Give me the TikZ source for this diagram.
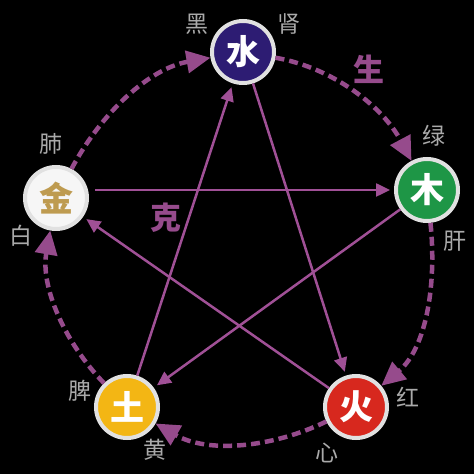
\documentclass[tikz,border=0pt]{standalone}
\usepackage{fontspec}
\newfontfamily\cjk{Noto Sans CJK SC}
\usetikzlibrary{arrows.meta}
\definecolor{waterc}{RGB}{45,28,115}
\definecolor{woodc}{RGB}{30,150,70}
\definecolor{firec}{RGB}{215,40,30}
\definecolor{earthc}{RGB}{243,182,20}
\definecolor{metalc}{RGB}{246,246,246}
\definecolor{goldc}{RGB}{190,155,80}
\definecolor{ringc}{RGB}{225,225,225}
\definecolor{shengc}{RGB}{150,75,140}
\definecolor{kec}{RGB}{160,80,150}
\definecolor{lblc}{RGB}{170,170,170}
\begin{document}
\begin{tikzpicture}[x=1pt,y=1pt,
  elem/.style={circle, minimum size=62pt, inner sep=0pt, line width=4pt, draw=ringc,
    font=\cjk\bfseries\fontsize{34}{34}\selectfont, text=white},
  lbl/.style={font=\cjk\fontsize{23}{23}\selectfont, text=lblc, inner sep=0pt},
  big/.style={font=\cjk\bfseries\fontsize{31}{31}\selectfont, text=shengc, inner sep=0pt},
  cyc/.style={draw=shengc, line width=4.5pt, dash pattern=on 9pt off 5pt,
    -{Triangle[length=24pt,width=22pt]}, looseness=0.9},
  ke/.style={draw=kec, line width=2.5pt, -{Triangle[length=14pt,width=13pt]}, shorten >=4pt}]
\fill[black] (0,0) rectangle (474,474);
\useasboundingbox (0,0) rectangle (474,474);
% elements
\node[elem, fill=waterc] (W) at (243,422) {水};
\node[elem, fill=woodc] (Wd) at (427,284) {木};
\node[elem, fill=firec] (F) at (356,67) {火};
\node[elem, fill=earthc] (E) at (127,67) {土};
\node[elem, fill=metalc, text=goldc] (M) at (56,276) {金};
% labels
\node[lbl] (l1) at (197,450) {黑};
\node[lbl] (l2) at (289,450) {肾};
\node[lbl] (l3) at (434,338) {绿};
\node[lbl] (l4) at (455,233) {肝};
\node[lbl] (l5) at (51,330) {肺};
\node[lbl] (l6) at (21,238) {白};
\node[lbl] (l7) at (80,83) {脾};
\node[lbl] (l8) at (155,24) {黄};
\node[lbl] (l9) at (408,77) {红};
\node[lbl] (l10) at (327,21) {心};
\node[big] (sheng) at (369,405) {生};
\node[big] (ke) at (166,256) {克};
% generating cycle
\draw[cyc] (W) to[out=-10, in=118] (Wd);
\draw[cyc] (Wd) to[out=-84, in=40] (F);
\draw[cyc] (F) to[out=-154, in=-30] (E);
\draw[cyc] (E) to[out=134, in=-100] (M);
\draw[cyc] (M) to[out=62, in=190] (W);
% overcoming star
\draw[ke] (W) -- (F);
\draw[ke] (F) -- (M);
\draw[ke, shorten <=6pt] (M.east |- Wd) -- (Wd);
\draw[ke] (Wd) -- (E);
\draw[ke] (E) -- (W);
\end{tikzpicture}
\end{document}
